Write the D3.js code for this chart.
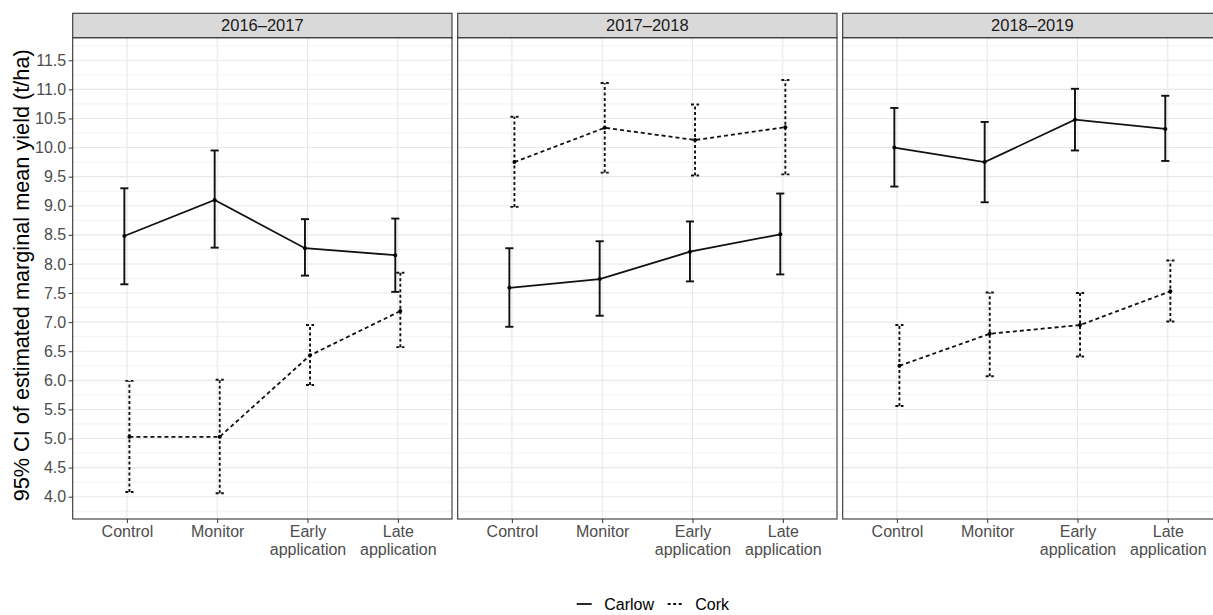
<!DOCTYPE html>
<html>
<head>
<meta charset="utf-8">
<script src="https://cdn.jsdelivr.net/npm/d3@7"></script>
<style>
  body { margin: 0; background: #fff; }
  svg { font-family: "Liberation Sans", Arial, sans-serif; display: block; }
</style>
</head>
<body>
<div id="chart"></div>
<script>
// facets, categories and series
const seasons = ["2016–2017", "2017–2018", "2018–2019"];
const treatments = ["Control", "Monitor", "Early application", "Late application"];
const treatmentLabels = [["Control"], ["Monitor"], ["Early", "application"], ["Late", "application"]];
const sites = ["Carlow", "Cork"];

// estimated marginal means and 95% CI, one row per season
const carlowMean  = [[8.48, 9.10, 8.27, 8.15], [7.59, 7.74, 8.21, 8.51], [10.00, 9.75, 10.48, 10.32]];
const carlowLower = [[7.65, 8.28, 7.80, 7.52], [6.92, 7.11, 7.70, 7.82], [9.33, 9.06, 9.95, 9.77]];
const carlowUpper = [[9.30, 9.95, 8.77, 8.78], [8.27, 8.39, 8.73, 9.21], [10.68, 10.44, 11.01, 10.89]];
const corkMean    = [[5.03, 5.03, 6.43, 7.19], [9.75, 10.34, 10.13, 10.35], [6.25, 6.80, 6.95, 7.53]];
const corkLower   = [[4.08, 4.06, 5.92, 6.57], [8.98, 9.57, 9.52, 9.54], [5.56, 6.07, 6.41, 7.01]];
const corkUpper   = [[5.99, 6.01, 6.95, 7.85], [10.53, 11.11, 10.74, 11.16], [6.95, 7.51, 7.50, 8.06]];

const yTicks = d3.range(4.0, 11.51, 0.5);
const yMinor = d3.range(3.75, 11.9, 0.5);

const width = 1213, height = 615;
const panelLefts = [72.7, 457.7, 842.7];
const panelW = 379.3;
const stripTop = 13.3, panelTop = 37.7, panelBottom = 519;

const series = [
    { name: "Carlow", mean: carlowMean, lower: carlowLower, upper: carlowUpper, dash: null, barDash: null, dodge: -1 },
    { name: "Cork", mean: corkMean, lower: corkLower, upper: corkUpper, dash: "4,3", barDash: "3,2.5", dodge: 1 },
];

const svg = d3.select("#chart").append("svg")
    .attr("width", width)
    .attr("height", height)
    .attr("viewBox", [0, 0, width, height]);

const y = d3.scaleLinear().domain([3.617, 11.888]).range([panelBottom, panelTop]);

seasons.forEach((season, si) => {
    const x0 = panelLefts[si];
    const x = d3.scalePoint().domain(treatments).range([x0, x0 + panelW]).padding(0.6);
    const step = x.step();
    const g = svg.append("g").attr("class", "panel");

    // minor grid
    g.append("g").selectAll("line").data(yMinor).join("line")
        .attr("x1", x0).attr("x2", x0 + panelW)
        .attr("y1", d => y(d)).attr("y2", d => y(d))
        .attr("stroke", "#f2f2f2").attr("stroke-width", 1);
    // major grid
    g.append("g").selectAll("line").data(yTicks).join("line")
        .attr("x1", x0).attr("x2", x0 + panelW)
        .attr("y1", d => y(d)).attr("y2", d => y(d))
        .attr("stroke", "#e8e8e8").attr("stroke-width", 1.1);
    g.append("g").selectAll("line").data(treatments).join("line")
        .attr("x1", d => x(d)).attr("x2", d => x(d))
        .attr("y1", panelTop).attr("y2", panelBottom)
        .attr("stroke", "#e8e8e8").attr("stroke-width", 1.1);

    series.forEach(s => {
        const rows = treatments.map((t, i) => ({
            cx: x(t) + s.dodge * step * 0.028,
            m: s.mean[si][i], lo: s.lower[si][i], hi: s.upper[si][i],
        }));
        const capW = step * 0.045;

        const bars = g.append("g");
        bars.selectAll("line.v").data(rows).join("line")
            .attr("x1", d => d.cx).attr("x2", d => d.cx)
            .attr("y1", d => y(d.lo)).attr("y2", d => y(d.hi));
        bars.selectAll("line.top").data(rows).join("line")
            .attr("x1", d => d.cx - capW).attr("x2", d => d.cx + capW)
            .attr("y1", d => y(d.hi)).attr("y2", d => y(d.hi));
        bars.selectAll("line.bot").data(rows).join("line")
            .attr("x1", d => d.cx - capW).attr("x2", d => d.cx + capW)
            .attr("y1", d => y(d.lo)).attr("y2", d => y(d.lo));
        bars.selectAll("line")
            .attr("stroke", "#111")
            .attr("stroke-width", 1.9)
            .attr("stroke-dasharray", s.barDash);

        const line = d3.line().x(d => d.cx).y(d => y(d.m));
        g.append("path")
            .attr("d", line(rows))
            .attr("fill", "none")
            .attr("stroke", "#111")
            .attr("stroke-width", 1.8)
            .attr("stroke-dasharray", s.dash);

        g.append("g").selectAll("circle").data(rows).join("circle")
            .attr("cx", d => d.cx).attr("cy", d => y(d.m))
            .attr("r", 2).attr("fill", "#000");
    });

    // panel border and strip
    g.append("rect")
        .attr("x", x0).attr("y", panelTop)
        .attr("width", panelW).attr("height", panelBottom - panelTop)
        .attr("fill", "none").attr("stroke", "#333").attr("stroke-width", 1.1);
    g.append("rect")
        .attr("x", x0).attr("y", stripTop)
        .attr("width", panelW).attr("height", panelTop - stripTop)
        .attr("fill", "#d9d9d9").attr("stroke", "#333").attr("stroke-width", 1.1);
    g.append("text")
        .attr("x", x0 + panelW / 2).attr("y", (stripTop + panelTop) / 2)
        .attr("dy", "0.35em")
        .attr("text-anchor", "middle")
        .attr("font-size", 16.5)
        .attr("fill", "#1a1a1a")
        .text(season);

    // x axis
    const xAxis = d3.axisBottom(x).tickSize(4).tickSizeOuter(0).tickFormat("");
    const ax = svg.append("g")
        .attr("transform", `translate(0,${panelBottom})`)
        .call(xAxis);
    ax.select(".domain").remove();
    ax.selectAll(".tick line").attr("stroke", "#333");
    ax.selectAll(".tick").each(function (d, i) {
        const t = d3.select(this).append("text")
            .attr("fill", "#4d4d4d")
            .attr("font-size", 16)
            .attr("text-anchor", "middle")
            .attr("y", 18);
        treatmentLabels[i].forEach((w, k) => {
            t.append("tspan").attr("x", 0).attr("dy", k === 0 ? 0 : 17.6).text(w);
        });
    });
});

// y axis
const yAxis = d3.axisLeft(y).tickValues(yTicks).tickFormat(d3.format(".1f")).tickSize(4).tickSizeOuter(0);
const ay = svg.append("g")
    .attr("transform", `translate(${panelLefts[0]},0)`)
    .call(yAxis);
ay.select(".domain").remove();
ay.selectAll(".tick line").attr("stroke", "#333");
ay.selectAll(".tick text")
    .attr("fill", "#4d4d4d")
    .attr("font-size", 16)
    .attr("font-family", "Liberation Sans, Arial, sans-serif")
    .attr("x", -6.5);

svg.append("text")
    .attr("transform", `translate(28.5,${(panelTop + panelBottom) / 2 - 3}) rotate(-90)`)
    .attr("text-anchor", "middle")
    .attr("font-size", 21.7)
    .attr("fill", "#000")
    .text("95% CI of estimated marginal mean yield (t/ha)");

// legend
const legendY = 604;
const legendItems = [
    { name: sites[0], x: 576.7, dash: null },
    { name: sites[1], x: 667.7, dash: "3,2.5" },
];
const lg = svg.append("g");
legendItems.forEach(it => {
    lg.append("line")
        .attr("x1", it.x).attr("x2", it.x + 15)
        .attr("y1", legendY).attr("y2", legendY)
        .attr("stroke", "#111").attr("stroke-width", 1.8)
        .attr("stroke-dasharray", it.dash);
    lg.append("text")
        .attr("x", it.x + 27.5).attr("y", legendY)
        .attr("dy", "0.35em")
        .attr("font-size", 16)
        .attr("fill", "#000")
        .text(it.name);
});
</script>
</body>
</html>
